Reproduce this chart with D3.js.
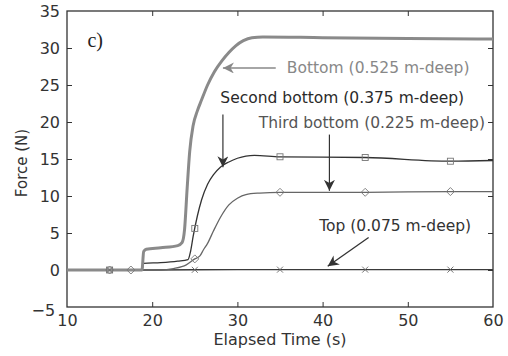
<!DOCTYPE html>
<html>
<head>
<meta charset="utf-8">
<script src="https://d3js.org/d3.v7.min.js"></script>
<style>
  body { margin: 0; background: #fff; }
  svg text { font-family: "DejaVu Sans", "Liberation Sans", Arial, sans-serif; }
</style>
</head>
<body>
<div id="chart"></div>
<script>
"use strict"

// ---- data ----
var xTicks = [10, 20, 30, 40, 50, 60];
var yTicks = [-5, 0, 5, 10, 15, 20, 25, 30, 35];

var tempoBottom = [10, 18.8, 19.0, 19.3, 21, 23, 23.5, 23.8, 24.1, 24.4, 24.8, 25.3, 25.8, 26.5, 27.3, 28.2, 29.0, 29.8, 30.7, 31.7, 33, 40, 50, 60];
var forcaBottom = [0, 0, 2.5, 2.8, 3.0, 3.3, 3.7, 5.5, 11, 16, 19.5, 21.5, 23, 25, 26.8, 28.3, 29.4, 30.3, 31.0, 31.4, 31.5, 31.4, 31.3, 31.2];

var tempoSecond = [10, 18.8, 19.0, 21, 23, 24.2, 24.5, 24.8, 25.3, 25.8, 26.5, 27.2, 28, 29, 30, 31, 32, 35, 45, 55, 60];
var forcaSecond = [0, 0, 0.9, 1.0, 1.2, 1.4, 2.5, 4.5, 7.3, 9.5, 11.6, 12.9, 13.9, 14.6, 15.1, 15.4, 15.5, 15.3, 15.2, 14.7, 14.8];

var tempoThird = [10, 21, 22.5, 24, 25, 25.6, 26, 26.5, 27.2, 28, 29, 30, 31, 32.6, 35, 45, 55, 60];
var forcaThird = [0, 0, 0.2, 0.7, 1.5, 1.9, 2.7, 3.6, 5.3, 7.1, 8.8, 9.7, 10.2, 10.4, 10.5, 10.5, 10.6, 10.6];

var tempoTop = [10, 20, 30, 40, 50, 60];
var forcaTop = [0, 0, 0.05, 0.05, 0.05, 0.05];

var marcasSecond = [15, 25, 35, 45, 55];
var marcasThird = [15, 17.5, 25, 35, 45, 55];
var marcasTop = [15, 25, 35, 45, 55];

var legendas = ["Bottom (0.525 m-deep)", "Second bottom (0.375 m-deep)", "Third bottom (0.225 m-deep)", "Top (0.075 m-deep)"];

// ---- layout ----
var larguraSVG = 508, alturaSVG = 356;
var margin = {top: 11, right: 15, bottom: 49, left: 67},
    larguraVis = larguraSVG - margin.left - margin.right,
    alturaVis = alturaSVG - margin.top - margin.bottom;

var x = d3.scaleLinear().domain([10, 60]).range([0, larguraVis]);
var y = d3.scaleLinear().domain([-5, 35]).range([alturaVis, 0]);

var svg = d3.select('#chart').append('svg')
    .attr('width', larguraSVG)
    .attr('height', alturaSVG);

var defs = svg.append('defs');
function seta(id, cor) {
  defs.append('marker')
      .attr('id', id)
      .attr('viewBox', '0 0 10 10')
      .attr('refX', 10).attr('refY', 5)
      .attr('markerWidth', 11).attr('markerHeight', 11)
      .attr('markerUnits', 'userSpaceOnUse')
      .attr('orient', 'auto')
      .append('path')
      .attr('d', 'M0,0 L10,5 L0,10 L3,5 Z')
      .attr('fill', cor);
}
seta('setaCinza', '#888');
seta('setaEscura', '#333');

var g = svg.append('g')
    .attr('transform', 'translate(' + margin.left + ',' + margin.top + ')');

// ---- axes (box with inward ticks) ----
var eixoFonte = '16px';
g.append('g')
  .attr('transform', 'translate(0,' + alturaVis + ')')
  .call(d3.axisBottom(x).tickValues(xTicks).tickSizeInner(-5).tickSizeOuter(0).tickPadding(8))
  .call(function(a) {
    a.select('.domain').remove();
    a.selectAll('line').attr('stroke', '#333');
    a.selectAll('text').attr('font-size', eixoFonte).attr('fill', '#333');
    a.selectAll('.tick').filter(function(d) { return d === 10 || d === 60; }).select('line').remove();
  });
g.append('g')
  .call(d3.axisTop(x).tickValues(xTicks).tickSizeInner(-5).tickSizeOuter(0).tickFormat(''))
  .call(function(a) {
    a.select('.domain').remove();
    a.selectAll('line').attr('stroke', '#333');
    a.selectAll('.tick').filter(function(d) { return d === 10 || d === 60; }).remove();
  });
g.append('g')
  .call(d3.axisLeft(y).tickValues(yTicks).tickSizeInner(-5).tickSizeOuter(0).tickPadding(7))
  .call(function(a) {
    a.select('.domain').remove();
    a.selectAll('line').attr('stroke', '#333');
    a.selectAll('text').attr('font-size', eixoFonte).attr('fill', '#333');
    a.selectAll('.tick').filter(function(d) { return d === -5 || d === 35; }).select('line').remove();
    a.selectAll('.tick').filter(function(d) { return d === -5; }).select('text').attr('dy', '0.5em').attr('dx', '-0.3em');
  });
g.append('g')
  .attr('transform', 'translate(' + larguraVis + ',0)')
  .call(d3.axisRight(y).tickValues(yTicks).tickSizeInner(-5).tickSizeOuter(0).tickFormat(''))
  .call(function(a) {
    a.select('.domain').remove();
    a.selectAll('line').attr('stroke', '#333');
    a.selectAll('.tick').filter(function(d) { return d === -5 || d === 35; }).remove();
  });

g.append('rect')
  .attr('width', larguraVis).attr('height', alturaVis)
  .attr('fill', 'none').attr('stroke', '#333').attr('stroke-width', 1.3);

// ---- lines ----
function zip(ts, vs) { return ts.map(function(t, i) { return [t, vs[i]]; }); }
var linha = d3.line().x(function(d) { return x(d[0]); }).y(function(d) { return y(d[1]); }).curve(d3.curveMonotoneX);

g.append('path').datum(zip(tempoTop, forcaTop))
  .attr('d', linha).attr('fill', 'none').attr('stroke', '#3a3a3a').attr('stroke-width', 1.4);
g.append('path').datum(zip(tempoThird, forcaThird))
  .attr('d', linha).attr('fill', 'none').attr('stroke', '#666').attr('stroke-width', 1.3);
g.append('path').datum(zip(tempoSecond, forcaSecond))
  .attr('d', linha).attr('fill', 'none').attr('stroke', '#333').attr('stroke-width', 1.3);
g.append('path').datum(zip(tempoBottom, forcaBottom))
  .attr('d', linha).attr('fill', 'none').attr('stroke', '#8a8a8a').attr('stroke-width', 3);

function valorEm(ts, vs, t) {
  return d3.scaleLinear().domain(ts).range(vs)(t);
}

// markers
g.selectAll('.quad').data(marcasSecond).enter().append('rect')
  .attr('x', function(d) { return x(d) - 3; })
  .attr('y', function(d) { return y(valorEm(tempoSecond, forcaSecond, d)) - 3; })
  .attr('width', 6).attr('height', 6)
  .attr('fill', 'none').attr('stroke', '#777').attr('stroke-width', 0.9);
g.selectAll('.diam').data(marcasThird).enter().append('path')
  .attr('transform', function(d) { return 'translate(' + x(d) + ',' + y(valorEm(tempoThird, forcaThird, d)) + ')'; })
  .attr('d', 'M0,-4 L4,0 L0,4 L-4,0 Z')
  .attr('fill', 'none').attr('stroke', '#777').attr('stroke-width', 0.9);
g.selectAll('.xis').data(marcasTop).enter().append('path')
  .attr('transform', function(d) { return 'translate(' + x(d) + ',' + y(valorEm(tempoTop, forcaTop, d)) + ')'; })
  .attr('d', 'M-3,-3 L3,3 M-3,3 L3,-3')
  .attr('fill', 'none').attr('stroke', '#666').attr('stroke-width', 0.9);

// ---- annotations ----
var fonteNota = '15.5px';
g.append('text').attr('x', x(12.4)).attr('y', y(30.2))
  .style('font-family', '"Liberation Serif", "Times New Roman", serif')
  .attr('font-size', '20px').attr('fill', '#222').text('c)');

// Bottom
g.append('line').attr('x1', x(34.5)).attr('y1', y(27.3)).attr('x2', x(28.3)).attr('y2', y(27.3))
  .attr('stroke', '#888').attr('stroke-width', 1.6).attr('marker-end', 'url(#setaCinza)');
g.append('text').attr('x', x(35.8)).attr('y', y(26.6)).attr('font-size', fonteNota).attr('fill', '#888').text(legendas[0]);

// Second bottom
g.append('text').attr('x', x(28.0)).attr('y', y(22.6)).attr('font-size', fonteNota).attr('fill', '#2a2a2a').text(legendas[1]);
g.append('line').attr('x1', x(28.3)).attr('y1', y(21.0)).attr('x2', x(28.3)).attr('y2', y(13.9))
  .attr('stroke', '#333').attr('stroke-width', 1.2).attr('marker-end', 'url(#setaEscura)');

// Third bottom
g.append('text').attr('x', x(32.5)).attr('y', y(19.2)).attr('font-size', fonteNota).attr('fill', '#555').text(legendas[2]);
g.append('line').attr('x1', x(40.8)).attr('y1', y(18.3)).attr('x2', x(40.8)).attr('y2', y(10.7))
  .attr('stroke', '#333').attr('stroke-width', 1.2).attr('marker-end', 'url(#setaEscura)');

// Top
g.append('text').attr('x', x(39.6)).attr('y', y(5.3)).attr('font-size', fonteNota).attr('fill', '#333').text(legendas[3]);
g.append('line').attr('x1', x(45.4)).attr('y1', y(4.4)).attr('x2', x(40.6)).attr('y2', y(0.5))
  .attr('stroke', '#333').attr('stroke-width', 1.3).attr('marker-end', 'url(#setaEscura)');

// axis titles
svg.append('text')
  .attr('transform', 'translate(27,163) rotate(-90)')
  .attr('text-anchor', 'middle').attr('font-size', '15px').attr('fill', '#333')
  .text('Force (N)');
svg.append('text')
  .attr('x', 280).attr('y', 345)
  .attr('text-anchor', 'middle').attr('font-size', '16px').attr('fill', '#333')
  .text('Elapsed Time (s)');
</script>
</body>
</html>
